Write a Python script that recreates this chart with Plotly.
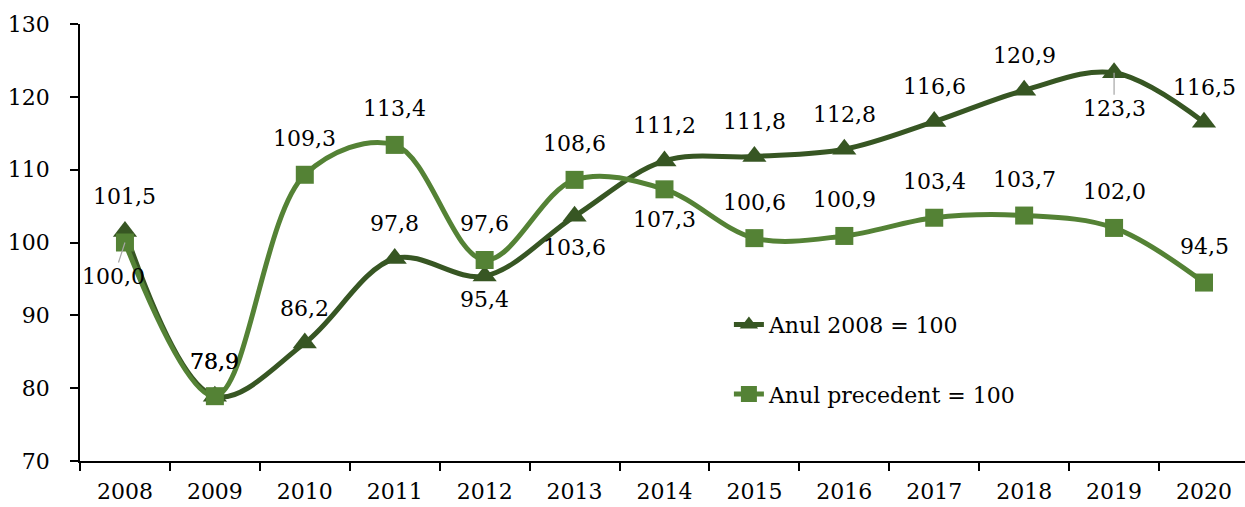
import plotly.graph_objects as go

years = ["2008", "2009", "2010", "2011", "2012", "2013", "2014",
         "2015", "2016", "2017", "2018", "2019", "2020"]
base_2008 = [101.5, 78.9, 86.2, 97.8, 95.4, 103.6, 111.2, 111.8, 112.8, 116.6, 120.9, 123.3, 116.5]
prev_year = [100.0, 78.9, 109.3, 113.4, 97.6, 108.6, 107.3, 100.6, 100.9, 103.4, 103.7, 102.0, 94.5]
name_base = "Anul 2008 = 100"
name_prev = "Anul precedent = 100"
y_ticks = [70, 80, 90, 100, 110, 120, 130]

# label vertical offsets in pixels (style, not data)
shift_base = [35, 35, 35, 35, -23, -31, 35, 35, 35, 35, 35, None, 35]
shift_prev = [None, 35, 36, 36, 36, 36, -30, 36, 36, 36, 36, 36, 36]

DARK = "#375623"
LIGHT = "#548235"
FONT = "DejaVu Serif"
FS = 22

fig = go.Figure()
fig.add_trace(go.Scatter(
    x=years, y=base_2008, name=name_base, mode="lines+markers",
    line=dict(color=DARK, width=5, shape="spline", smoothing=1),
    marker=dict(symbol="triangle-up", size=21, color=DARK),
    legendgroup="a",
))
fig.add_trace(go.Scatter(
    x=years, y=prev_year, name=name_prev, mode="lines+markers",
    line=dict(color=LIGHT, width=5, shape="spline", smoothing=1),
    marker=dict(symbol="square", size=18, color=LIGHT),
    legendgroup="b",
))

def fmt(v):
    return f"{v:.1f}".replace(".", ",")

lab_font = dict(family=FONT, size=FS, color="black")
annotations = []
for i, v in enumerate(base_2008):
    s = shift_base[i]
    if s is None:
        annotations.append(dict(x=i, y=v, xref="x", yref="y", text=fmt(v), showarrow=True,
                                arrowhead=0, arrowcolor="#a6a6a6", arrowwidth=1.2,
                                ax=0, ay=36, standoff=0, font=lab_font))
    else:
        annotations.append(dict(x=i, y=v, xref="x", yref="y", text=fmt(v), showarrow=False,
                                yshift=s, font=lab_font))
for i, v in enumerate(prev_year):
    s = shift_prev[i]
    if s is None:
        annotations.append(dict(x=i, y=v, xref="x", yref="y", text=fmt(v), showarrow=True,
                                arrowhead=0, arrowcolor="#a6a6a6", arrowwidth=1.2,
                                ax=-11, ay=34, standoff=0, font=lab_font))
    else:
        annotations.append(dict(x=i, y=v, xref="x", yref="y", text=fmt(v), showarrow=False,
                                yshift=s, font=lab_font))

fig.update_layout(
    width=1245, height=507,
    margin=dict(l=80, r=0, t=24, b=46, autoexpand=False),
    paper_bgcolor="white", plot_bgcolor="white",
    font=dict(family=FONT, size=FS, color="black"),
    showlegend=True,
    legend=dict(x=0.557, y=0.36, xanchor="left", yanchor="top",
                bgcolor="rgba(0,0,0,0)", tracegroupgap=38,
                font=dict(family=FONT, size=FS, color="black")),
    annotations=annotations,
)
fig.update_xaxes(
    type="category", range=[-0.5, 12.456],
    showline=True, linecolor="black", linewidth=1.5,
    ticks="outside", tickson="boundaries", ticklen=8, tickcolor="black", tickwidth=1.5,
    showgrid=False, zeroline=False, ticklabelstandoff=10,
    tickfont=dict(family=FONT, size=FS, color="black"),
)
fig.update_yaxes(
    range=[70, 130], tickvals=y_ticks,
    showline=True, linecolor="black", linewidth=1.5,
    ticks="outside", ticklen=8, tickcolor="black", tickwidth=1.5,
    showgrid=False, zeroline=False, ticklabelstandoff=16,
    tickfont=dict(family=FONT, size=FS, color="black"),
)

fig.write_html("out.html", config={"displayModeBar": False},
               post_script="document.body.style.margin='0';")
